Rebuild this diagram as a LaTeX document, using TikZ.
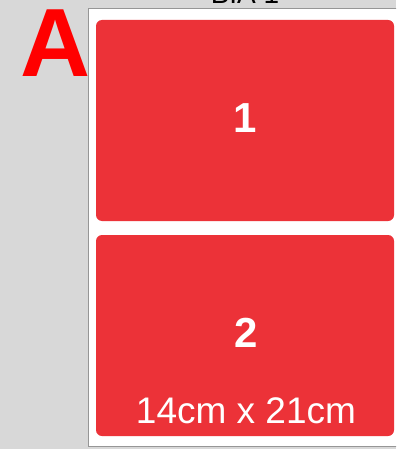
\documentclass[tikz,border=0pt]{standalone}
\usepackage{fontspec}
\setmainfont{Liberation Sans}
\definecolor{bggray}{RGB}{216,216,216}
\definecolor{edgegray}{RGB}{150,150,150}
\definecolor{cardred}{RGB}{236,50,56}
\begin{document}
\begin{tikzpicture}[
    x=1pt, y=-1pt,
    card/.style={
        rectangle, fill=cardred, rounded corners=6pt,
        minimum width=298pt, minimum height=201pt, inner sep=0pt
    },
    num/.style={
        font=\fontsize{42}{42}\selectfont\bfseries, text=white, inner sep=0pt
    },
    every node/.style={inner sep=0pt}
]
\useasboundingbox (0,0) rectangle (396,449);
\clip (0,0) rectangle (396,449);

% Background and sheet
\fill[bggray] (0,0) rectangle (396,449);
\draw[edgegray, fill=white, line width=0.8pt] (88,8) rectangle (404,446);

% Title, cut off at the top
\node[anchor=base, font=\fontsize{28}{28}\selectfont] (title) at (245,4) {BIA 1};

% Big letter
\node[font=\fontsize{97}{97}\selectfont\bfseries, text=red] (letter) at (56,43) {A};

% Cards
\node[card] (card1) at (245,120.5) {};
\node[card] (card2) at (245,335.5) {};

% Labels
\node[num] (num1) at (245,118) {1};
\node[num] (num2) at (246,333) {2};
\node[font=\fontsize{37}{37}\selectfont, text=white] (size) at (246,410.5) {14cm x 21cm};

\end{tikzpicture}
\end{document}
